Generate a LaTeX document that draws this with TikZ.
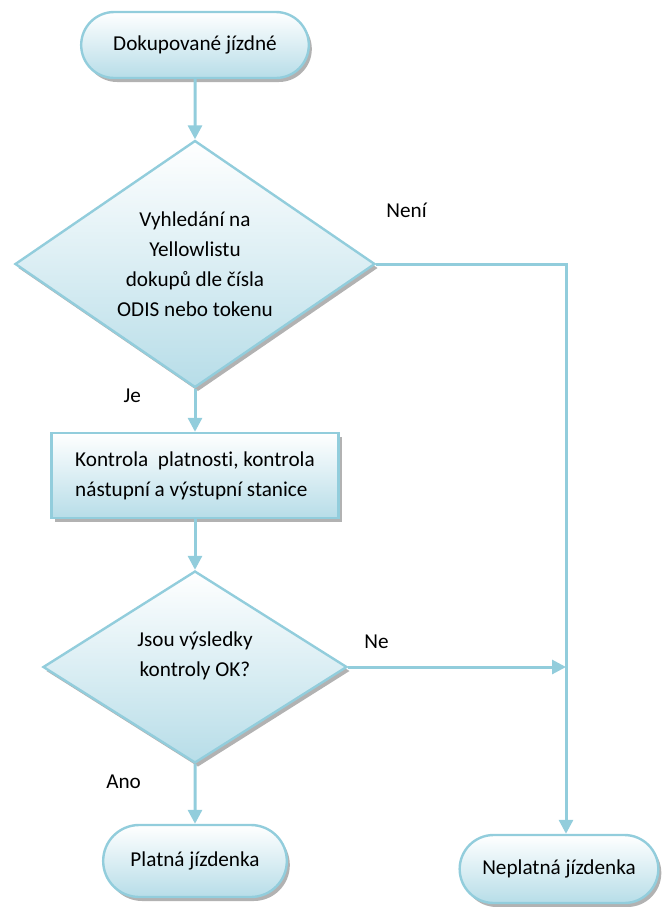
\documentclass[tikz,border=0pt]{standalone}
\usepackage{fontspec}
\setmainfont{Carlito}[Ligatures=NoCommon]
\usetikzlibrary{positioning}
\usetikzlibrary{arrows.meta}
\usetikzlibrary{shapes.geometric}
\usetikzlibrary{shapes.misc}
\usetikzlibrary{shadows}
\definecolor{lineblue}{RGB}{146,205,220}
\definecolor{fillblue}{RGB}{183,221,232}

\begin{document}
\begin{tikzpicture}[
        >={Triangle[width=7pt,length=7pt]},
        font=\fontsize{10.6}{15}\selectfont,
        basenode/.style={draw=lineblue, line width=1.2pt, top color=white, bottom color=fillblue,
            drop shadow={shadow xshift=1.5pt, shadow yshift=-2pt, fill=gray!60, opacity=1}},
        pillnode/.style={basenode, rounded rectangle, minimum width=#1, minimum height=34pt},
        decnode/.style={basenode, diamond, inner sep=0pt, align=center},
        boxnode/.style={basenode, rectangle, align=left, minimum width=143.5pt, minimum height=42.5pt},
        conn/.style={->, color=lineblue, line width=1.5pt},
        lbl/.style={text=black}
    ]

        \useasboundingbox (0,0) rectangle (333pt,-453.5pt);

        \node [pillnode=120.5pt, minimum height=33pt] (Start) at (97.5pt,-22.5pt) {Dokupované jízdné};
        \node [decnode, aspect=1.457, minimum width=180pt, minimum height=123.5pt] (Search) [below of = Start, node distance=109.5pt]
            {Vyhledání na\\Yellowlistu\\dokupů dle čísla\\ODIS nebo tokenu};
        \node [boxnode] (Check) [below of = Search, node distance=105.75pt]
            {Kontrola~ platnosti, kontrola\\nástupní a výstupní stanice};
        \node [decnode, aspect=1.583, minimum width=152pt, minimum height=96pt] (Result) [below of = Check, node distance=95.75pt]
            {Jsou výsledky\\kontroly OK?\\[-2pt]~};
        \node [pillnode=98.5pt, minimum height=36pt] (Valid) [below of = Result, node distance=97pt] {Platná jízdenka};
        \node [pillnode=106pt] (Invalid) [right of = Valid, node distance=182pt, yshift=-4pt] {Neplatná jízdenka};

        % Corner of the right-hand branch
        \coordinate (Turn) at ([xshift=3.5pt]Invalid.north |- Search.east);
        \coordinate (Merge) at (Result.east -| Turn);

        % Main column
        \draw[conn] (Start) -- (Search);
        \draw[conn] (Search) -- node [lbl, pos=0.16, left=23pt] {Je} (Check);
        \draw[conn] (Check) -- (Result);
        \draw[conn] (Result) -- node [lbl, pos=0.3, left=23pt] {Ano} (Valid);

        % Right-hand branch
        \draw[conn] (Search.east) -- node [lbl, pos=0.16, above=19pt] {Není} (Turn) -- (Turn |- Invalid.north);
        \draw[conn] (Result.east) -- node [lbl, pos=0.13, above=5pt] {Ne} (Merge);

    \end{tikzpicture}
\end{document}
